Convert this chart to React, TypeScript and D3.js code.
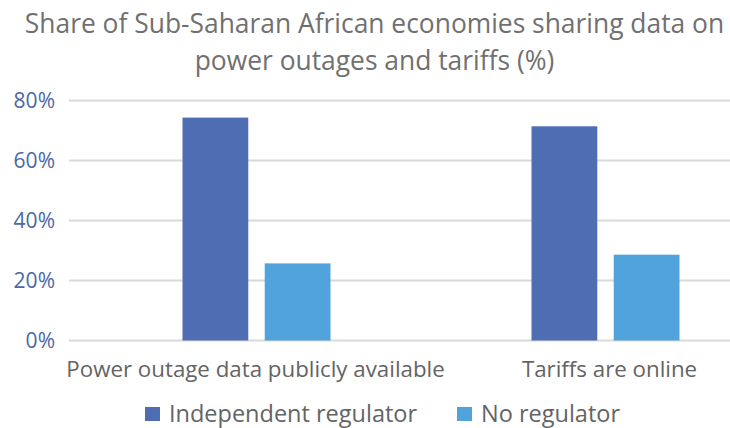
import React from 'react'
import * as d3 from 'd3'

const categories = ['Power outage data publicly available', 'Tariffs are online']
const seriesNames = ['Independent regulator', 'No regulator']
const independentRegulator = [74.3, 71.4]
const noRegulator = [25.7, 28.6]
const yTicks = [0, 20, 40, 60, 80]
const titleLines = [
  'Share of Sub-Saharan African economies sharing data on',
  'power outages and tariffs (%)',
]

const colors = ['#4E6DB2', '#51A4DB']
const font = '"Open Sans", sans-serif'

const W = 730
const H = 428

export default function App() {
  const y = d3.scaleLinear().domain([0, 80]).range([340.5, 100.5])
  const x = d3.scaleBand().domain(categories).range([82, 780])
  const xSub = d3.scaleBand().domain(seriesNames).range([-74, 74]).paddingInner(0.2)

  const rows = categories.map((c, i) => ({
    category: c,
    values: [independentRegulator[i], noRegulator[i]],
  }))

  const legendX = [145, 457]

  return (
    <svg width={W} height={H} style={{ position: 'absolute', left: 0, top: 0 }}>
      <rect width={W} height={H} fill="#fff" />
      {titleLines.map((t, i) => (
        <text key={t} x={374.5} y={33 + i * 37} textAnchor="middle"
          fontFamily={font} fontSize={26.4} fill="#707070">{t}</text>
      ))}
      {yTicks.map((t) => (
        <g key={t}>
          <line x1={69} x2={W} y1={y(t)} y2={y(t)} stroke="#D9D9D9" strokeWidth={2} />
          <text x={55} y={y(t)} dy="0.36em" textAnchor="end" fontFamily={font}
            fontSize={21} fill="#4A67A8">{t}%</text>
        </g>
      ))}
      {rows.map((r) => {
        const cx = x(r.category)! + x.bandwidth() / 2
        return (
          <g key={r.category}>
            {r.values.map((v, j) => (
              <rect key={j} x={cx + xSub(seriesNames[j])!} y={y(v)}
                width={xSub.bandwidth()} height={y(0) - y(v)} fill={colors[j]} />
            ))}
          </g>
        )
      })}
      {categories.map((c, i) => (
        <text key={c} x={x(c)! + x.bandwidth() / 2 + (i === 1 ? 4 : -1)} y={376.5} textAnchor="middle"
          fontFamily={font} fontSize={22.3} fill="#646464">{c}</text>
      ))}
      {seriesNames.map((s, j) => (
        <g key={s}>
          <rect x={legendX[j]} y={407} width={15} height={14} fill={colors[j]} />
          <text x={legendX[j] + 24} y={421.5} fontFamily={font} fontSize={23.5} fill="#646464">{s}</text>
        </g>
      ))}
    </svg>
  )
}
